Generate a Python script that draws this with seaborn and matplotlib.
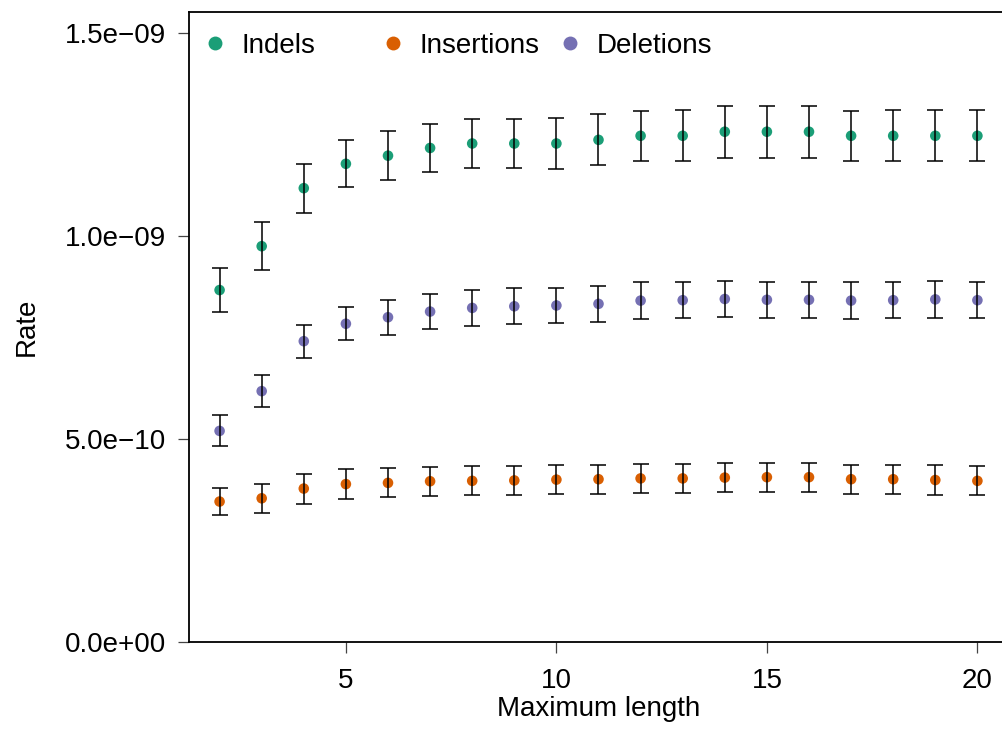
import numpy as np
import pandas as pd
import matplotlib
matplotlib.use("Agg")
import matplotlib.pyplot as plt
import seaborn as sns
from matplotlib.lines import Line2D

# ---- data (rates in units of 1e-9) ----
max_length = list(range(2, 21))
indels = [0.867, 0.975, 1.118, 1.178, 1.198, 1.217, 1.228, 1.228, 1.228, 1.237,
          1.247, 1.247, 1.257, 1.257, 1.257, 1.247, 1.247, 1.247, 1.247]
indels_err = [0.054, 0.059, 0.060, 0.058, 0.060, 0.060, 0.061, 0.061, 0.062, 0.063,
              0.062, 0.063, 0.064, 0.064, 0.064, 0.062, 0.063, 0.063, 0.063]
insertions = [0.346, 0.354, 0.378, 0.389, 0.392, 0.396, 0.397, 0.398, 0.400, 0.401,
              0.403, 0.403, 0.405, 0.406, 0.406, 0.401, 0.401, 0.399, 0.397]
insertions_err = [0.033, 0.036, 0.037, 0.036, 0.036, 0.036, 0.036, 0.036, 0.036, 0.036,
                  0.036, 0.036, 0.036, 0.036, 0.036, 0.036, 0.036, 0.036, 0.036]
deletions = [0.520, 0.618, 0.741, 0.784, 0.800, 0.814, 0.823, 0.827, 0.829, 0.833,
             0.841, 0.842, 0.845, 0.843, 0.843, 0.841, 0.842, 0.844, 0.842]
deletions_err = [0.038, 0.040, 0.041, 0.041, 0.043, 0.043, 0.044, 0.044, 0.044, 0.045,
                 0.045, 0.045, 0.045, 0.045, 0.045, 0.045, 0.045, 0.045, 0.045]
series_names = ["Indels", "Insertions", "Deletions"]
colors = ["#1B9E77", "#D95F02", "#7570B3"]
yticks = [0.0, 5e-10, 1e-9, 1.5e-9]
ytick_labels = ["0.0e+00", "5.0e\u221210", "1.0e\u221209", "1.5e\u221209"]
xticks = [5, 10, 15, 20]

scale = 1e-9
rows = []
for name, vals, errs in [("Indels", indels, indels_err),
                         ("Insertions", insertions, insertions_err),
                         ("Deletions", deletions, deletions_err)]:
    for x, v, e in zip(max_length, vals, errs):
        rows.append({"Maximum length": x, "Rate": v * scale, "err": e * scale, "type": name})
df = pd.DataFrame(rows)

sns.set_style("white")
plt.rcParams["font.family"] = ["Liberation Sans", "DejaVu Sans"]
plt.rcParams["text.color"] = "black"
plt.rcParams["axes.labelcolor"] = "black"
plt.rcParams["xtick.color"] = "black"
plt.rcParams["ytick.color"] = "black"

fig = plt.figure(figsize=(10.02, 7.53), dpi=100)
ax = fig.add_axes([0.1889, 0.1474, 0.8168, 0.8367])

palette = dict(zip(series_names, colors))
sns.scatterplot(data=df, x="Maximum length", y="Rate", hue="type", palette=palette,
                s=58, edgecolor="none", ax=ax, legend=False, zorder=2)
for name in series_names:
    sub = df[df["type"] == name]
    ax.errorbar(sub["Maximum length"], sub["Rate"], yerr=sub["err"], fmt="none",
                ecolor="black", elinewidth=1.3, capsize=6, capthick=1.3, zorder=3, alpha=0.85)

ax.set_xlim(1.28, 20.72)
ax.set_ylim(0, 1.552e-9)
ax.set_xticks(xticks)
ax.set_xticklabels([str(t) for t in xticks])
ax.set_yticks(yticks)
ax.set_yticklabels(ytick_labels)
ax.tick_params(axis="both", which="major", direction="out", length=8, width=0.9,
               color="#444444", labelcolor="black", labelsize=20, left=True, bottom=True)
ax.tick_params(axis="x", pad=11)
ax.tick_params(axis="y", pad=9)

for side in ["left", "bottom", "top"]:
    ax.spines[side].set_visible(True)
    ax.spines[side].set_color("black")
    ax.spines[side].set_linewidth(1.3)
ax.spines["right"].set_visible(False)

ax.set_xlabel("Maximum length", fontsize=20, color="black")
ax.set_ylabel("Rate", fontsize=20, color="black")
ax.xaxis.set_label_coords(0.5, -0.086)
ax.yaxis.set_label_coords(-0.183, 0.5)

# legend: three entries with equal column spacing, no frame
fs_px = 20 * 100 / 72.0
ax_w_px = 0.8168 * 1002
marker_x_px = [215 - 189.3, 393 - 189.3, 570 - 189.3]
hl = 0.5
for name, col, mx in zip(series_names, colors, marker_x_px):
    h = Line2D([], [], linestyle="none", marker="o", markersize=10,
               markerfacecolor=col, markeredgecolor="none")
    anchor_x = (mx - hl * fs_px / 2) / ax_w_px
    leg = ax.legend(handles=[h], labels=[name], loc="center left",
                    bbox_to_anchor=(anchor_x, 0.946), frameon=False,
                    fontsize=20, handlelength=hl, handletextpad=0.72,
                    borderpad=0, borderaxespad=0)
    for t in leg.get_texts():
        t.set_color("black")
    ax.add_artist(leg)
ax.legend_ = None

fig.savefig("out.png", dpi=100)
